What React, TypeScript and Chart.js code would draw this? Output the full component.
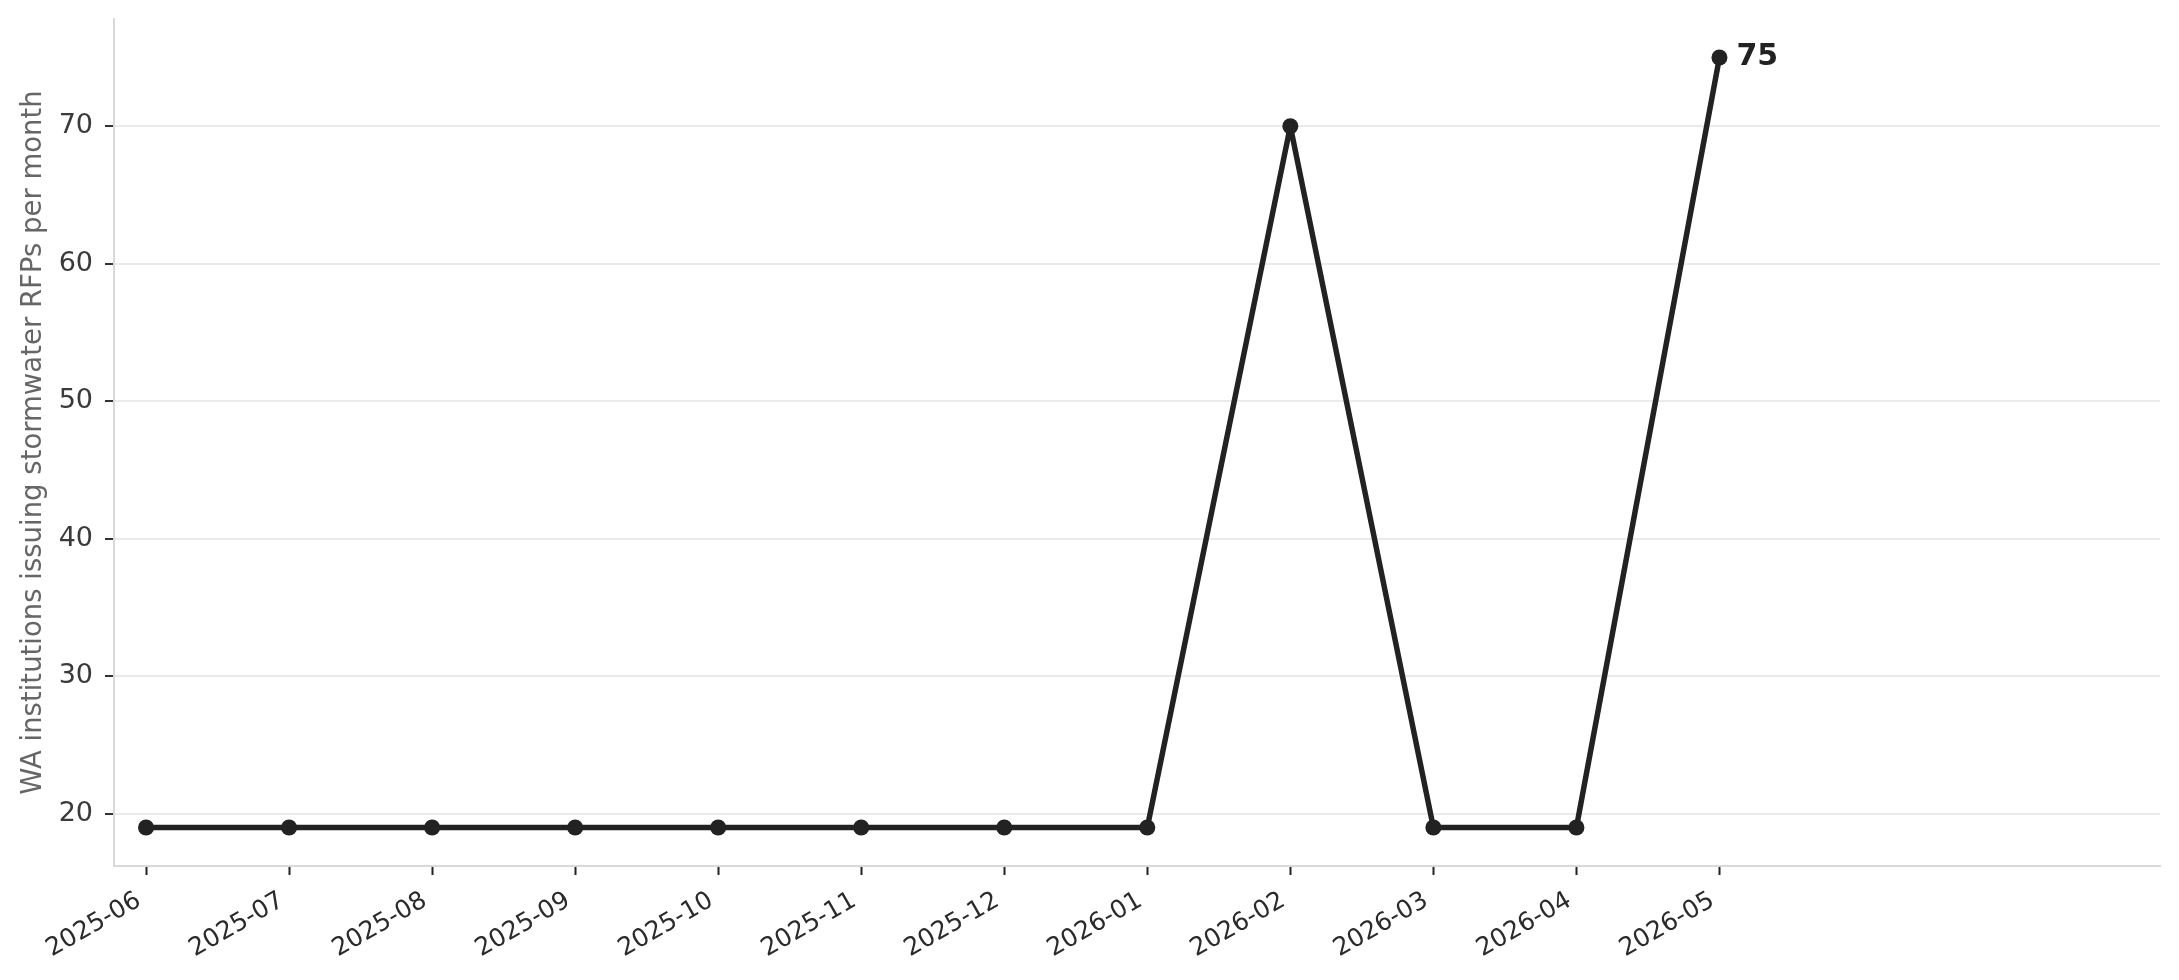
import { useEffect, useRef } from "react";
import { Chart, registerables, type ChartOptions, type Plugin } from "chart.js";

Chart.register(...registerables);

// months on the x axis
const months = [
    "2025-06", "2025-07", "2025-08", "2025-09", "2025-10", "2025-11",
    "2025-12", "2026-01", "2026-02", "2026-03", "2026-04", "2026-05",
];
// WA institutions issuing stormwater RFPs per month
const rfpCounts = [19, 19, 19, 19, 19, 19, 19, 19, 70, 19, 19, 75];
const yTicks = [20, 30, 40, 50, 60, 70];

const INK = "#222222";
const FONT = "'DejaVu Sans', sans-serif";

// label the latest value next to its point
const lastValueLabel: Plugin<"line"> = {
    id: "lastValueLabel",
    afterDatasetsDraw(chart) {
        const meta = chart.getDatasetMeta(0);
        const i = rfpCounts.length - 1;
        const pt = meta.data[i];
        if (!pt) return;
        const { ctx } = chart;
        ctx.save();
        ctx.font = `bold 30px ${FONT}`;
        ctx.fillStyle = INK;
        ctx.textAlign = "left";
        ctx.textBaseline = "middle";
        ctx.fillText(String(rfpCounts[i]), pt.x + 17, pt.y);
        ctx.restore();
    },
};

export default function App() {
    const canvasRef = useRef<HTMLCanvasElement>(null);
    const chartRef = useRef<Chart<"line"> | null>(null);

    useEffect(() => {
        document.body.style.margin = "0";
        if (!canvasRef.current) return;
        if (chartRef.current) chartRef.current.destroy();

        const options: ChartOptions<"line"> = {
            animation: false,
            responsive: true,
            maintainAspectRatio: false,
            layout: { padding: { top: 19, right: 19, left: 0, bottom: 0 } },
            plugins: {
                legend: { display: false },
                tooltip: { enabled: false },
            },
            scales: {
                x: {
                    type: "linear",
                    min: -0.224,
                    max: 14.08,
                    afterBuildTicks: (scale) => {
                        scale.ticks = months.map((_, i) => ({ value: i }));
                    },
                    afterFit: (scale) => {
                        scale.height = 114;
                        scale.paddingLeft = 0;
                        scale.paddingRight = 0;
                    },
                    grid: {
                        drawOnChartArea: false,
                        drawTicks: true,
                        tickLength: 9,
                        tickWidth: 2,
                        tickColor: INK,
                    },
                    border: { color: "#d9d9d9", width: 2 },
                    ticks: {
                        autoSkip: false,
                        maxRotation: 30,
                        minRotation: 30,
                        padding: 11,
                        labelOffset: -7,
                        color: "#2b2b2b",
                        font: { family: FONT, size: 25 },
                        callback: (v) => months[Number(v)] ?? "",
                    },
                },
                y: {
                    min: 16.2,
                    max: 77.8,
                    afterBuildTicks: (scale) => {
                        scale.ticks = yTicks.map(v => ({ value: v }));
                    },
                    afterFit: (scale) => {
                        scale.width = 114;
                        scale.paddingTop = 0;
                        scale.paddingBottom = 0;
                    },
                    grid: {
                        color: "#ebebeb",
                        lineWidth: 2,
                        drawTicks: true,
                        tickLength: 9,
                        tickWidth: 2,
                        tickColor: "#333333",
                    },
                    border: { color: "#d9d9d9", width: 2 },
                    ticks: {
                        padding: 12,
                        color: "#3a3a3a",
                        font: { family: FONT, size: 27 },
                    },
                    title: {
                        display: true,
                        text: "WA institutions issuing stormwater RFPs per month",
                        color: "#666666",
                        font: { family: FONT, size: 27.5 },
                        padding: { top: 17, bottom: 0 },
                    },
                },
            },
        };

        chartRef.current = new Chart(canvasRef.current, {
            type: "line",
            data: {
                datasets: [
                    {
                        label: "RFPs",
                        data: rfpCounts.map((v, i) => ({ x: i, y: v })),
                        borderColor: INK,
                        borderWidth: 5.5,
                        borderJoinStyle: "round",
                        borderCapStyle: "round",
                        tension: 0,
                        fill: false,
                        pointRadius: 8,
                        pointBackgroundColor: INK,
                        pointBorderWidth: 0,
                        pointBorderColor: INK,
                    },
                ],
            },
            options,
            plugins: [lastValueLabel],
        });

        return () => { chartRef.current?.destroy(); chartRef.current = null; };
    }, []);

    return (
        <div style={{ width: 2179, height: 980, position: "relative", background: "#fff" }}>
            <canvas ref={canvasRef} />
        </div>
    );
}
